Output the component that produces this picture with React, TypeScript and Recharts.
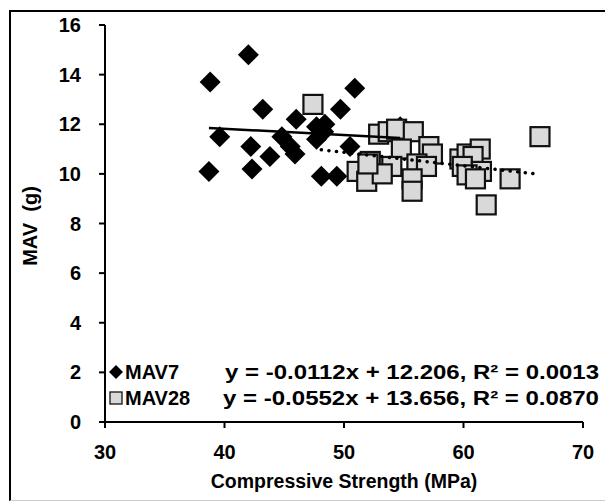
import React from "react";
import { ScatterChart, Scatter, XAxis, YAxis } from "recharts";

// MAV7 points (compressive strength MPa, MAV g)
const mav7Strength = [38.8, 42.0, 43.2, 39.6, 42.2, 43.8, 38.7, 42.3, 44.8, 45.9, 46.0, 45.5, 47.7, 48.4, 47.7, 48.3, 49.7, 48.1, 49.4, 50.5, 50.9, 54.7];
const mav7Mav = [13.7, 14.8, 12.6, 11.5, 11.1, 10.7, 10.1, 10.2, 11.5, 10.8, 12.2, 11.1, 11.4, 12.0, 11.9, 11.7, 12.6, 9.9, 9.9, 11.1, 13.45, 11.9];

// MAV28 points
const mav28Strength = [47.4, 52.9, 53.7, 54.4, 55.8, 57.1, 57.4, 54.8, 56.1, 56.9, 52.2, 51.1, 51.9, 54.0, 53.2, 55.7, 55.7, 59.7, 60.3, 61.4, 60.8, 59.9, 61.5, 60.3, 61.0, 63.9, 61.9, 66.4, 52.0];
const mav28Mav = [12.8, 11.6, 11.7, 11.8, 11.7, 11.1, 10.8, 11.0, 10.4, 10.3, 10.5, 10.1, 9.7, 10.3, 10.0, 9.8, 9.3, 10.6, 10.8, 11.0, 10.7, 10.3, 10.1, 9.96, 9.8, 9.8, 8.75, 11.5, 10.4];

// trendline end points as drawn
const trend7Strength = [38.7, 54.7];
const trend7Mav = [11.85, 11.45];
const trend28Strength = [48.1, 66.4];
const trend28Mav = [10.97, 9.98];

const xTicks = [30, 40, 50, 60, 70];
const yTicks = [0, 2, 4, 6, 8, 10, 12, 14, 16];

const toPoints = (xs: number[], ys: number[]) => xs.map((x, i) => ({ x, y: ys[i] }));

const font = "'Liberation Sans', Arial, sans-serif";
const tickStyle = { fontSize: 20, fontWeight: 700, fill: "#000", fontFamily: font };
const textStyle = { fontSize: 20, fontWeight: 700, fontFamily: font, fill: "#000" };

const Diamond = (p: any) => (
  <polygon
    points={`${p.cx},${p.cy - 10.5} ${p.cx + 10.5},${p.cy} ${p.cx},${p.cy + 10.5} ${p.cx - 10.5},${p.cy}`}
    fill="#000"
  />
);

const Square = (p: any) => (
  <rect x={p.cx - 9.5} y={p.cy - 9.5} width={19} height={19} fill="#d9d9d9" stroke="#111" strokeWidth={2.2} />
);

const NoDot = () => <g />;

export default function App() {
  return (
    <>
      <div
        style={{
          position: "absolute",
          left: 9,
          top: 10,
          width: 620,
          height: 488,
          borderTop: "2px solid #000",
          borderLeft: "2px solid #000",
          borderBottom: "1px solid #ccc",
        }}
      />
      <div style={{ position: "absolute", left: 0, top: 0, width: 605, height: 501 }}>
        <ScatterChart width={605} height={501} margin={{ top: 25, right: 22, bottom: 39, left: 45 }}>
          <XAxis
            type="number"
            dataKey="x"
            domain={[30, 70]}
            ticks={xTicks}
            height={40}
            axisLine={{ stroke: "#000", strokeWidth: 2 }}
            tickLine={{ stroke: "#000", strokeWidth: 2 }}
            tickSize={6}
            tickMargin={17}
            tick={tickStyle}
          />
          <YAxis
            type="number"
            dataKey="y"
            domain={[0, 16]}
            ticks={yTicks}
            width={60}
            axisLine={{ stroke: "#000", strokeWidth: 2 }}
            tickLine={{ stroke: "#000", strokeWidth: 2 }}
            tickSize={6}
            tickMargin={18}
            tick={tickStyle}
          />
          <Scatter data={toPoints(mav7Strength, mav7Mav)} shape={Diamond} isAnimationActive={false} />
          <Scatter data={toPoints(mav28Strength, mav28Mav)} shape={Square} isAnimationActive={false} />
          <Scatter
            data={toPoints(trend7Strength, trend7Mav)}
            line={{ stroke: "#000", strokeWidth: 2.5 }}
            shape={NoDot}
            isAnimationActive={false}
          />
          <Scatter
            data={toPoints(trend28Strength, trend28Mav)}
            line={{ stroke: "#000", strokeWidth: 3.5, strokeDasharray: "0.1 7.5", strokeLinecap: "round" }}
            shape={NoDot}
            isAnimationActive={false}
          />
          <text x={30} y={226} transform="rotate(-90 30 226)" textAnchor="middle" dominantBaseline="central"
            style={{ ...textStyle, whiteSpace: "pre" }}>
            {"MAV  (g)"}
          </text>
          <text x={344} y={488} textAnchor="middle" style={{ ...textStyle, fontSize: 19.5 }}>
            Compressive Strength (MPa)
          </text>
          <polygon points="116,365 123,372 116,379 109,372" fill="#000" />
          <text x={125} y={379} style={textStyle}>MAV7</text>
          <rect x={110} y={392} width={12} height={12} fill="#d9d9d9" stroke="#111" strokeWidth={1.3} />
          <text x={125} y={405} style={textStyle}>MAV28</text>
          <text x={599} y={379} textAnchor="end" textLength={374} lengthAdjust="spacingAndGlyphs" style={textStyle}>
            y = -0.0112x + 12.206, R² = 0.0013
          </text>
          <text x={599} y={405} textAnchor="end" textLength={376} lengthAdjust="spacingAndGlyphs" style={textStyle}>
            y = -0.0552x + 13.656, R² = 0.0870
          </text>
        </ScatterChart>
      </div>
    </>
  );
}
